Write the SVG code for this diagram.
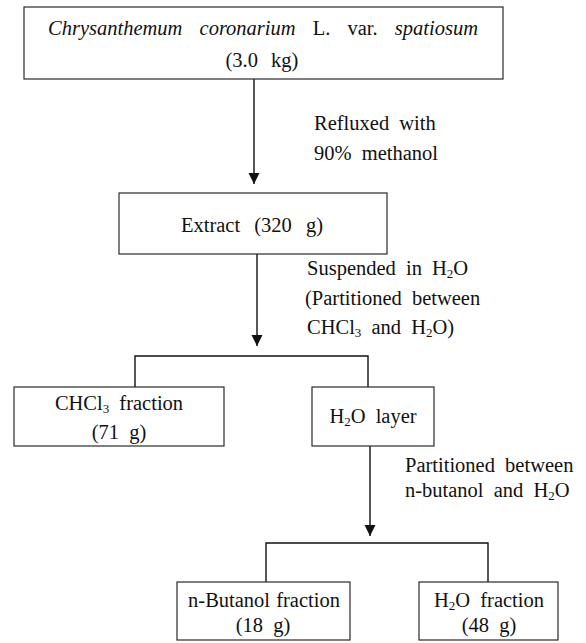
<svg xmlns="http://www.w3.org/2000/svg" width="586" height="643" viewBox="0 0 586 643">
<style>
text{font-family:"Liberation Serif","Times New Roman",serif;font-size:20.5px;fill:#111;word-spacing:5px}
.c{text-anchor:middle}
.box{fill:#fff;stroke:#2a2a2a;stroke-width:1.2}
.ln{fill:none;stroke:#111;stroke-width:1.4}
.sub{font-size:13px}
</style>
<defs>
<marker id="ah" markerUnits="userSpaceOnUse" markerWidth="12" markerHeight="12" refX="11" refY="5.5" orient="auto">
<path d="M0,0 L11,5.5 L0,11 z" fill="#111"/>
</marker>
</defs>
<rect width="586" height="643" fill="#fff"/>
<g id="connectors">
<line class="ln" x1="254" y1="79" x2="254" y2="184" marker-end="url(#ah)"/>
<line class="ln" x1="257" y1="254" x2="257" y2="346" marker-end="url(#ah)"/>
<polyline class="ln" points="135,387 135,356 368,356 368,387"/>
<line class="ln" x1="370" y1="446" x2="370" y2="536" marker-end="url(#ah)"/>
<polyline class="ln" points="266,582 266,543 488,543 488,582"/>
</g>
<g id="labels">
<text x="314" y="130">Refluxed with</text>
<text x="314" y="160">90% methanol</text>
<text x="307" y="275">Suspended in H<tspan class="sub" dy="3">2</tspan><tspan dy="-3">O</tspan></text>
<text x="305" y="305">(Partitioned between</text>
<text x="307" y="334">CHCl<tspan class="sub" dy="3">3</tspan><tspan dy="-3"> and H</tspan><tspan class="sub" dy="3">2</tspan><tspan dy="-3">O)</tspan></text>
<text x="405" y="472">Partitioned between</text>
<text x="405" y="497">n-butanol and H<tspan class="sub" dy="3">2</tspan><tspan dy="-3">O</tspan></text>
</g>
<g id="plant">
<rect class="box" x="24" y="7" width="479" height="72"/>
<text class="c" x="263" y="35" style="word-spacing:12px"><tspan font-style="italic">Chrysanthemum coronarium</tspan> L. var. <tspan font-style="italic">spatiosum</tspan></text>
<text class="c" x="262" y="67" style="word-spacing:8px">(3.0 kg)</text>
</g>
<g id="extract">
<rect class="box" x="119" y="193" width="268" height="61"/>
<text class="c" x="252" y="232" style="word-spacing:9px">Extract (320 g)</text>
</g>
<g id="chcl3">
<rect class="box" x="14" y="387" width="210" height="59"/>
<text class="c" x="119" y="410">CHCl<tspan class="sub" dy="3">3</tspan><tspan dy="-3"> fraction</tspan></text>
<text class="c" x="119" y="439">(71 g)</text>
</g>
<g id="h2olayer">
<rect class="box" x="312" y="387" width="122" height="59"/>
<text class="c" x="373" y="423">H<tspan class="sub" dy="3">2</tspan><tspan dy="-3">O layer</tspan></text>
</g>
<g id="butanol">
<rect class="box" x="177" y="582" width="173" height="58"/>
<text class="c" x="264" y="607" style="word-spacing:1px">n-Butanol fraction</text>
<text class="c" x="263" y="632">(18 g)</text>
</g>
<g id="h2ofraction">
<rect class="box" x="419" y="582" width="139" height="58"/>
<text class="c" x="489" y="607">H<tspan class="sub" dy="3">2</tspan><tspan dy="-3">O fraction</tspan></text>
<text class="c" x="489" y="632">(48 g)</text>
</g>
</svg>
